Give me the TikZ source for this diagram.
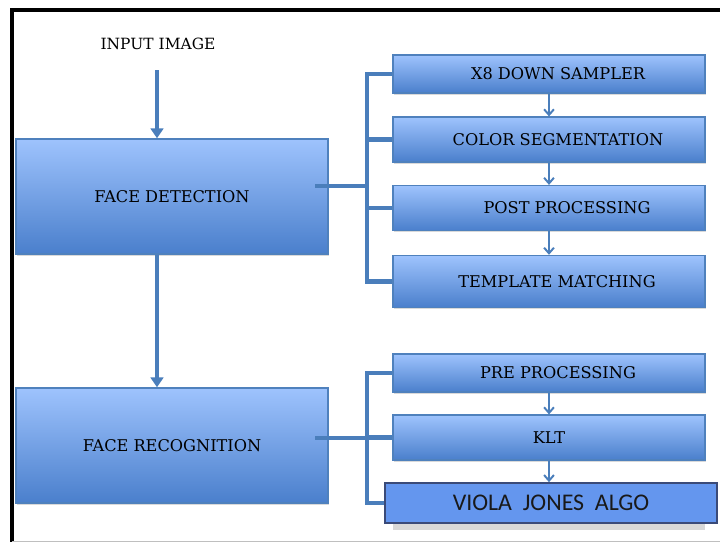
\documentclass[tikz,border=0pt]{standalone}
\usepackage{fontspec}
\setmainfont{DejaVu Serif}
\newfontfamily\calfont{Carlito}
\usetikzlibrary{shadows,arrows.meta}
\definecolor{boxtop}{HTML}{9EC3FD}
\definecolor{boxbot}{HTML}{4A7FCC}
\definecolor{boxline}{HTML}{4F81BD}
\definecolor{linkblue}{HTML}{4A7EBB}
\definecolor{vjfill}{HTML}{6496EE}
\definecolor{vjline}{HTML}{3A4A78}
\newcommand\nudge[1]{\hspace*{#1}}
\tikzset{
  stagebox/.style={draw=boxline,line width=1pt,top color=boxtop,bottom color=boxbot,
    drop shadow={shadow xshift=0.6pt,shadow yshift=-1.4pt,opacity=0.3},
    minimum width=7.8cm,minimum height=2.875cm,inner sep=0pt,
    font=\fontsize{11.5}{13}\selectfont,text=black},
  subbox/.style={stagebox,minimum height=1.12cm},
  bus/.style={linkblue,line width=3pt},
  mainarrow/.style={linkblue,line width=3.2pt,-{Triangle[width=9pt,length=7pt]}},
  steparrow/.style={linkblue,line width=1.4pt,-{Straight Barb[width=7pt,length=4pt]}}
}
\begin{document}
\begin{tikzpicture}[x=0.025cm,y=-0.025cm]
  \useasboundingbox (0,0) rectangle (720,542);
  % page frame
  \draw[line width=3pt] (12,542) -- (12,10) -- (720,10);
  \draw[black!25,line width=0.6pt] (12,541) -- (720,541);

  % main stages
  \node[font=\fontsize{11}{13}\selectfont] (inimg) at (158,44) {INPUT IMAGE};
  \node[stagebox] (fd) at (172,196.5) {FACE DETECTION};
  \node[stagebox] (fr) at (172,445.5) {FACE RECOGNITION};

  % detection steps
  \node[subbox,minimum height=0.95cm] (x8) at (549,74) {\nudge{0.45cm}X8 DOWN SAMPLER};
  \node[subbox] (cs) at (549,139.5) {\nudge{0.45cm}COLOR SEGMENTATION};
  \node[subbox] (pp) at (549,208) {\nudge{0.9cm}POST PROCESSING};
  \node[subbox,minimum height=1.3cm] (tm) at (549,281.5) {\nudge{0.4cm}TEMPLATE MATCHING};

  % recognition steps
  \node[subbox,minimum height=0.95cm] (pre) at (549,373) {\nudge{0.45cm}PRE PROCESSING};
  \node[subbox] (klt) at (549,437.5) {KLT};
  \fill[black!30,opacity=0.5] (393,490) rectangle (705,530);
  \node[draw=vjline,line width=1.2pt,fill=vjfill,minimum width=8.3cm,minimum height=1cm,
    inner sep=0pt,font=\calfont\fontsize{17}{19}\selectfont,text=black!90] (vj) at (551,503)
    {VIOLA\ \ JONES\ \ ALGO};

  % arrows
  \coordinate (inp) at (157,70);
  \draw[mainarrow] (inp) -- (inp |- fd.north);
  \draw[mainarrow] (inp |- fd.south) -- (inp |- fr.north);
  \draw[steparrow] (x8) -- (cs);
  \draw[steparrow] (cs) -- (pp);
  \draw[steparrow] (pp) -- (tm);
  \draw[steparrow] (pre) -- (klt);
  \draw[steparrow] (klt.south) -- (vj.north -| klt.south);

  % brackets
  \coordinate (busd) at (367,186);
  \coordinate (busr) at (367,438);
  \draw[bus] (315,186) -- (busd);
  \draw[bus] (x8.west) -| (busd) |- (tm.west);
  \draw[bus] (cs.west -| busd) -- (cs.west);
  \draw[bus] (pp.west -| busd) -- (pp.west);
  \draw[bus] (315,438) -- (busr);
  \draw[bus] (pre.west) -| (busr) |- (vj.west);
  \draw[bus] (klt.west -| busr) -- (klt.west);
\end{tikzpicture}
\end{document}
